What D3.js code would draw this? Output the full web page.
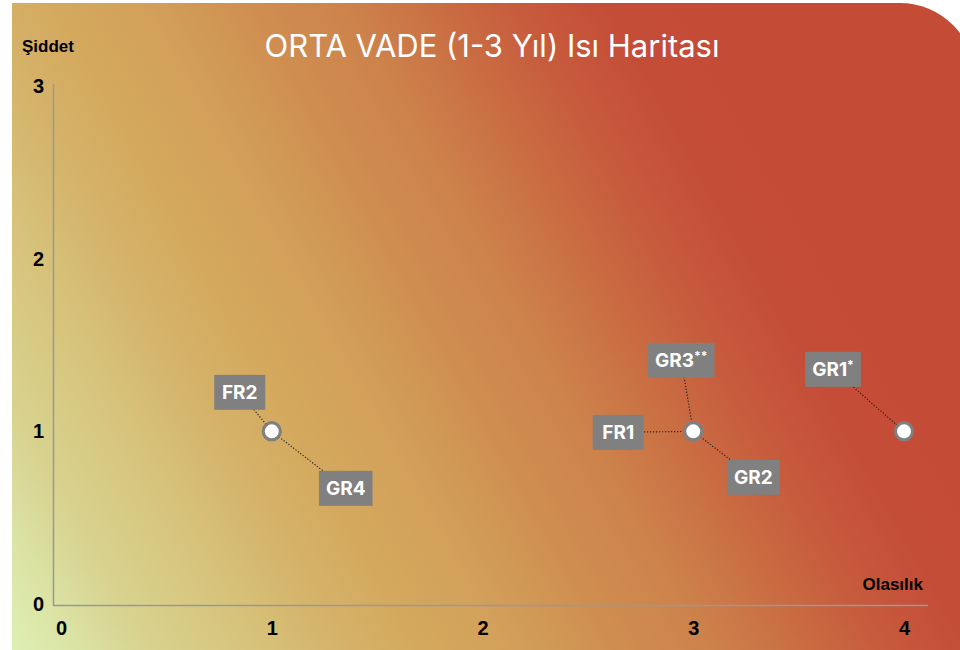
<!DOCTYPE html>
<html>
<head>
<meta charset="utf-8">
<script src="https://cdn.jsdelivr.net/npm/d3@7/dist/d3.min.js"></script>
<style>
	body { margin: 0; background: #fff; }
	svg { display: block; }
</style>
</head>
<body>
<div id="container"></div>
<script>
// risk codes, probability (x) and severity (y)
const risks = ["FR2", "GR4", "GR3", "FR1", "GR2", "GR1"];
const riskMarks = ["", "", "**", "", "", "*"];
const probability = [1, 1, 3, 3, 3, 4];
const severity = [1, 1, 1, 1, 1, 1];
const xTicks = [0, 1, 2, 3, 4];
const yTicks = [0, 1, 2, 3];

// where each label box sits relative to its point (px)
const labelOffsets = [[-32, -39], [74, 57], [-12, -71], [-75, 1], [60, 46], [-71, -62]];

const w = 960; // canvas width
const h = 650; // canvas height

const svg = d3.select("#container").append("svg").attr("width", w).attr("height", h);

const defs = svg.append("defs");
const grad = defs.append("linearGradient").attr("id", "heat").attr("gradientUnits", "userSpaceOnUse")
	.attr("x1", 12).attr("y1", 650).attr("x2", 12 + 1143 * 0.871).attr("y2", 650 - 1143 * 0.49);
const stops = [
	[0, "#ddf0b4"], [0.05, "#dbe3a4"], [0.10, "#d8d390"], [0.18, "#d7c47c"], [0.25, "#d5b36a"],
	[0.31, "#d4a95e"], [0.38, "#d2a05a"], [0.46, "#cf8e50"], [0.53, "#cd834b"], [0.60, "#ca6e43"],
	[0.66, "#c75c3d"], [0.73, "#c44d37"], [1, "#c44b35"]
];
grad.selectAll("stop").data(stops).enter().append("stop").attr("offset", (d) => d[0]).attr("stop-color", (d) => d[1]);

// background panel, rounded top-right corner
svg.append("path").attr("d", "M12,3 H900 A75,75 0 0 1 975,78 V650 H12 Z").attr("fill", "url(#heat)");

const xScale = d3.scaleLinear().domain([0, 4]).range([61, 904]);
const yScale = d3.scaleLinear().domain([0, 3]).range([604, 86]);

// axis lines
svg.append("line").attr("x1", 53.5).attr("x2", 53.5).attr("y1", 84).attr("y2", 605.5).attr("stroke", "#999").attr("stroke-width", 1.5);
svg.append("line").attr("x1", 53).attr("x2", 928).attr("y1", 605.5).attr("y2", 605.5).attr("stroke", "#999").attr("stroke-width", 1.5);

const xAxis = d3.axisBottom(xScale).tickValues(xTicks).tickSize(0).tickPadding(0).tickFormat(d3.format("d"));
const gx = svg.append("g").attr("transform", "translate(0, 620)").call(xAxis);
gx.select(".domain").remove();
gx.selectAll("text").attr("fill", "#000").attr("font-family", "Liberation Sans, Arial, sans-serif").attr("font-size", 20).attr("font-weight", "bold").attr("dy", "0.75em");

const yAxis = d3.axisLeft(yScale).tickValues(yTicks).tickSize(0).tickPadding(0).tickFormat(d3.format("d"));
const gy = svg.append("g").attr("transform", "translate(44, 0)").call(yAxis);
gy.select(".domain").remove();
gy.selectAll("text").attr("fill", "#000").attr("font-family", "Liberation Sans, Arial, sans-serif").attr("font-size", 20).attr("font-weight", "bold");

svg.append("text").attr("x", 22).attr("y", 52).text("Şiddet").attr("font-family", "Liberation Sans, Arial, sans-serif").attr("font-size", 17).attr("font-weight", "bold").attr("fill", "#000");
svg.append("text").attr("x", 923).attr("y", 590).attr("text-anchor", "end").text("Olasılık").attr("font-family", "Liberation Sans, Arial, sans-serif").attr("font-size", 17).attr("font-weight", "bold").attr("fill", "#000");

svg.append("text").attr("x", 492).attr("y", 57).attr("text-anchor", "middle").text("ORTA VADE (1-3 Yıl) Isı Haritası")
	.attr("font-family", "Inter, sans-serif").attr("font-size", 31).attr("fill", "#fff");

const data = risks.map((r, i) => ({
	name: r, mark: riskMarks[i], x: xScale(probability[i]), y: yScale(severity[i]),
	lx: xScale(probability[i]) + labelOffsets[i][0], ly: yScale(severity[i]) + labelOffsets[i][1]
}));

// leader lines
svg.selectAll(".leader").data(data).enter().append("line").attr("class", "leader")
	.attr("x1", (d) => d.x).attr("y1", (d) => d.y).attr("x2", (d) => d.lx).attr("y2", (d) => d.ly)
	.attr("stroke", "#222").attr("stroke-width", 1.2).attr("stroke-dasharray", "1.2,1.8");

// label boxes
const lab = svg.selectAll(".lab").data(data).enter().append("g").attr("class", "lab");
const rects = lab.append("rect").attr("fill", "#808080");
const texts = lab.append("text").attr("x", (d) => d.lx).attr("y", (d) => d.ly).attr("dy", "0.36em")
	.attr("text-anchor", "middle").attr("fill", "#fff").attr("font-family", "Inter, sans-serif").attr("font-weight", "bold").attr("font-size", 19);
texts.append("tspan").text((d) => d.name);
texts.append("tspan").text((d) => d.mark).attr("font-size", 12).attr("dy", "-0.6em");
texts.each(function(d) {
	const bw = Math.max(51, this.getComputedTextLength() + 14);
	d3.select(this.parentNode).select("rect").attr("x", d.lx - bw / 2).attr("y", d.ly - 17.5).attr("width", bw).attr("height", 35);
});

// points
svg.selectAll(".pt").data(data).enter().append("circle").attr("class", "pt")
	.attr("cx", (d) => d.x).attr("cy", (d) => d.y).attr("r", 8.5)
	.attr("fill", "#fff").attr("stroke", "#808080").attr("stroke-width", 3);
</script>
</body>
</html>
